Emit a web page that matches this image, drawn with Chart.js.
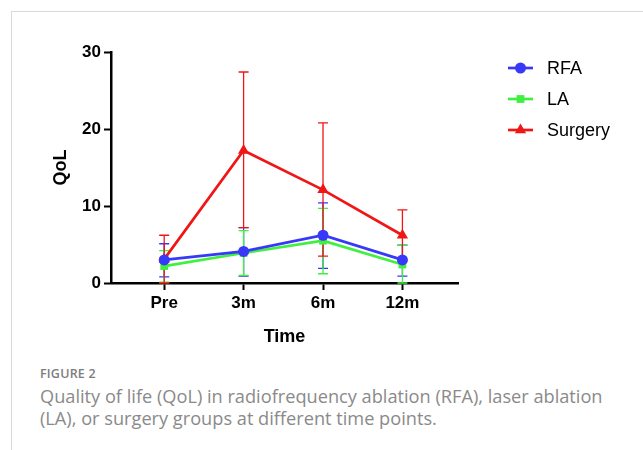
<!DOCTYPE html>
<html>
<head>
<meta charset="utf-8">
<script src="https://cdn.jsdelivr.net/npm/chart.js@4.4.1/dist/chart.umd.min.js"></script>
<style>
  html, body { margin: 0; padding: 0; background: #fff; }
  body { width: 643px; height: 450px; position: relative; overflow: hidden; }
  .frame {
    position: absolute; left: 11px; top: 11px; right: 0; bottom: 0;
    border-left: 1px solid #d9d9d9; border-top: 1px solid #d9d9d9;
  }
  #wrap { position: absolute; left: 0; top: 0; width: 643px; height: 350px; }
  #chart { display: block; }
  .caption { position: absolute; left: 40px; top: 365px; font-family: "Open Sans", sans-serif; color: #8a8a8a; white-space: nowrap; }
  .caption .fig { font-size: 12.5px; line-height: 17px; font-weight: 600; letter-spacing: 0.2px; margin-bottom: 3px; color: #7d7d7d; }
  .caption .txt { font-size: 18.2px; line-height: 22px; }
</style>
</head>
<body>
<div class="frame"></div>
<div id="wrap"><canvas id="chart" width="643" height="350"></canvas></div>
<div class="caption">
  <div class="fig">FIGURE 2</div>
  <div class="txt">Quality of life (QoL) in radiofrequency ablation (RFA), laser ablation<br>(LA), or surgery groups at different time points.</div>
</div>
<script>
// time points
const timeLabels = ['Pre', '3m', '6m', '12m'];

// means
const rfaMean = [3.0, 4.1, 6.2, 3.0];
const laMean = [2.2, 3.9, 5.5, 2.4];
const surgeryMean = [3.1, 17.2, 12.1, 6.2];

// error bar ends (upper / lower)
const rfaHigh = [5.1, 7.2, 10.4, 4.9];
const rfaLow = [0.8, 0.9, 1.9, 0.9];
const laHigh = [4.2, 6.8, 9.7, 4.9];
const laLow = [0.1, 1.0, 1.2, 0.0];
const surgeryHigh = [6.2, 27.4, 20.8, 9.5];
const surgeryLow = [0.0, 7.2, 3.5, 2.9];

const yTicks = [0, 10, 20, 30];

const colors = {
  rfa: '#3838f8',
  la: '#3ff03f',
  surgery: '#f01616'
};

function toPoints(values) {
  return values.map((v, i) => ({ x: i, y: v }));
}

const datasets = [
  { label: 'RFA', data: toPoints(rfaMean), high: rfaHigh, low: rfaLow, color: colors.rfa, pointStyle: 'circle', pointRadius: 5.5 },
  { label: 'LA', data: toPoints(laMean), high: laHigh, low: laLow, color: colors.la, pointStyle: 'rect', pointRadius: 5.5 },
  { label: 'Surgery', data: toPoints(surgeryMean), high: surgeryHigh, low: surgeryLow, color: colors.surgery, pointStyle: 'triangle', pointRadius: 6.5 }
].map(d => ({
  label: d.label,
  data: d.data,
  high: d.high,
  low: d.low,
  borderColor: d.color,
  backgroundColor: d.color,
  borderWidth: 2.7,
  pointStyle: d.pointStyle,
  pointRadius: d.pointRadius,
  pointBorderWidth: 0,
  tension: 0
}));

// vertical error bars, drawn through the chart scales
const errorBars = {
  id: 'errorBars',
  beforeDatasetsDraw(chart) {
    const { ctx, scales } = chart;
    ctx.save();
    ctx.lineWidth = 1.3;
    chart.data.datasets.forEach(ds => {
      ctx.strokeStyle = ds.borderColor;
      ds.data.forEach((p, i) => {
        const x = scales.x.getPixelForValue(p.x);
        const yHi = scales.y.getPixelForValue(ds.high[i]);
        const yLo = scales.y.getPixelForValue(ds.low[i]);
        ctx.beginPath();
        ctx.moveTo(x, yHi);
        ctx.lineTo(x, yLo);
        ctx.moveTo(x - 5, yHi);
        ctx.lineTo(x + 5, yHi);
        ctx.moveTo(x - 5, yLo);
        ctx.lineTo(x + 5, yLo);
        ctx.stroke();
      });
    });
    ctx.restore();
  }
};

// legend at the right with line + marker
const sideLegend = {
  id: 'sideLegend',
  afterDraw(chart) {
    const { ctx } = chart;
    ctx.save();
    chart.data.datasets.forEach((ds, i) => {
      const y = 68 + i * 31;
      ctx.strokeStyle = ds.borderColor;
      ctx.fillStyle = ds.borderColor;
      ctx.lineWidth = 2.7;
      ctx.beginPath();
      ctx.moveTo(508, y);
      ctx.lineTo(533, y);
      ctx.stroke();
      Chart.helpers.drawPoint(ctx, { pointStyle: ds.pointStyle, radius: ds.pointRadius, borderWidth: 0 }, 520.5, y);
      ctx.fillStyle = '#000';
      ctx.font = '18px "Liberation Sans", Arial, sans-serif';
      ctx.textBaseline = 'middle';
      ctx.fillText(ds.label, 547, y + 1);
    });
    ctx.restore();
  }
};

const fontFamily = '"Liberation Sans", Arial, sans-serif';

new Chart(document.getElementById('chart'), {
  type: 'line',
  data: { datasets },
  options: {
    responsive: false,
    animation: false,
    devicePixelRatio: 1,
    layout: { padding: { top: 52, right: 185, bottom: 0, left: 0 } },
    plugins: {
      legend: { display: false },
      tooltip: { enabled: false }
    },
    scales: {
      x: {
        type: 'linear',
        min: -0.67,
        max: 3.7,
        afterBuildTicks(scale) {
          scale.ticks = timeLabels.map((_, i) => ({ value: i }));
        },
        afterFit(scale) { scale.height = 67; },
        ticks: {
          color: '#000',
          font: { family: fontFamily, size: 17, weight: 'bold' },
          padding: 3,
          callback: v => timeLabels[v]
        },
        grid: { drawOnChartArea: false, tickLength: 7, tickWidth: 2, tickColor: '#000' },
        border: { color: '#000', width: 2.5 },
        title: { display: true, text: 'Time', color: '#000', font: { family: fontFamily, size: 18, weight: 'bold' }, padding: { top: 6, bottom: 2 } }
      },
      y: {
        min: 0,
        max: 30,
        afterBuildTicks(scale) {
          scale.ticks = yTicks.map(v => ({ value: v }));
        },
        afterFit(scale) { scale.width = 111; },
        ticks: { color: '#000', font: { family: fontFamily, size: 17, weight: 'bold' }, padding: 3 },
        grid: { drawOnChartArea: false, tickLength: 7, tickWidth: 2, tickColor: '#000' },
        border: { color: '#000', width: 2.5 },
        title: { display: true, text: 'QoL', color: '#000', font: { family: fontFamily, size: 18, weight: 'bold' }, padding: { top: 50, bottom: 8 } }
      }
    }
  },
  plugins: [errorBars, sideLegend]
});
</script>
</body>
</html>
